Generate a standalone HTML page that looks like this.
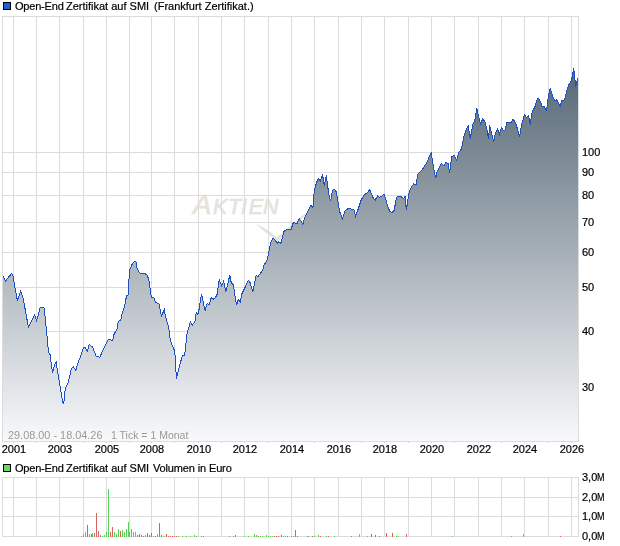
<!DOCTYPE html>
<html><head><meta charset="utf-8">
<style>
html,body{margin:0;padding:0;background:#fff;}
body{width:620px;height:546px;position:relative;overflow:hidden;font-family:"Liberation Sans",sans-serif;font-size:11px;color:#000;}
svg{position:absolute;left:0;top:0;}
.lbl{position:absolute;will-change:transform;-webkit-text-stroke:0.2px currentColor;line-height:12px;white-space:nowrap;}
.xl{width:40px;text-align:center;}
.t{position:absolute;will-change:transform;-webkit-text-stroke:0.2px currentColor;line-height:12px;white-space:nowrap;}
.sq{position:absolute;width:6px;height:6px;border:1px solid #000;}
</style></head><body>
<svg width="620" height="546" viewBox="0 0 620 546">
<defs>
<linearGradient id="gf" x1="0" y1="16" x2="0" y2="441" gradientUnits="userSpaceOnUse">
<stop offset="0" stop-color="#405463"/>
<stop offset="1" stop-color="#f8f9fb"/>
</linearGradient>
</defs>
<g fill="#e6e2dc">
<g font-family="Liberation Sans" font-style="italic" stroke="#e6e2dc" stroke-width="0.7">
<text x="193" y="213.5" font-size="27.5">A</text>
<text x="213" y="213.7" font-size="21.4">K</text>
<text x="228" y="213.7" font-size="21.4">T</text>
<text x="241" y="213.7" font-size="21.4">I</text>
<text x="248.8" y="213.7" font-size="21.4">E</text>
<text x="263" y="213.7" font-size="21.4">N</text>
</g>
<path d="M255.9,224.1 Q268,229 276.6,237.4 L305,213.5 L307,213.5 L278,241.5 Q266,234 255.9,224.1 Z"/>
</g>
<g stroke="#dcdcdc" stroke-width="1" shape-rendering="crispEdges"><line x1="13.5" y1="16" x2="13.5" y2="441" /><line x1="36.5" y1="16" x2="36.5" y2="441" /><line x1="59.5" y1="16" x2="59.5" y2="441" /><line x1="83.5" y1="16" x2="83.5" y2="441" /><line x1="106.5" y1="16" x2="106.5" y2="441" /><line x1="129.5" y1="16" x2="129.5" y2="441" /><line x1="151.5" y1="16" x2="151.5" y2="441" /><line x1="174.5" y1="16" x2="174.5" y2="441" /><line x1="198.5" y1="16" x2="198.5" y2="441" /><line x1="221.5" y1="16" x2="221.5" y2="441" /><line x1="244.5" y1="16" x2="244.5" y2="441" /><line x1="268.5" y1="16" x2="268.5" y2="441" /><line x1="291.5" y1="16" x2="291.5" y2="441" /><line x1="314.5" y1="16" x2="314.5" y2="441" /><line x1="338.5" y1="16" x2="338.5" y2="441" /><line x1="361.5" y1="16" x2="361.5" y2="441" /><line x1="384.5" y1="16" x2="384.5" y2="441" /><line x1="408.5" y1="16" x2="408.5" y2="441" /><line x1="431.5" y1="16" x2="431.5" y2="441" /><line x1="454.5" y1="16" x2="454.5" y2="441" /><line x1="478.5" y1="16" x2="478.5" y2="441" /><line x1="501.5" y1="16" x2="501.5" y2="441" /><line x1="524.5" y1="16" x2="524.5" y2="441" /><line x1="548.5" y1="16" x2="548.5" y2="441" /><line x1="571.5" y1="16" x2="571.5" y2="441" /><line x1="2" y1="152.5" x2="578" y2="152.5" /><line x1="2" y1="172.5" x2="578" y2="172.5" /><line x1="2" y1="195.5" x2="578" y2="195.5" /><line x1="2" y1="222.5" x2="578" y2="222.5" /><line x1="2" y1="252.5" x2="578" y2="252.5" /><line x1="2" y1="287.5" x2="578" y2="287.5" /><line x1="2" y1="331.5" x2="578" y2="331.5" /><line x1="2" y1="387.5" x2="578" y2="387.5" /></g>
<rect x="2.5" y="16.5" width="576" height="425" fill="none" stroke="#dcdcdc" shape-rendering="crispEdges"/>
<path d="M3,441 L3.0,276.2 L5.4,281.1 L11.5,273.5 L12.9,275.7 L17.3,300.5 L20.6,291.2 L23.1,297.9 L28.4,327.2 L34.6,315.0 L36.6,320.8 L40.4,307.0 L44.2,308.1 L47.0,336.2 L48.5,352.7 L50.0,354.4 L52.5,372.8 L54.5,365.4 L56.1,361.4 L57.7,372.5 L60.1,386.6 L62.8,402.7 L63.8,403.6 L65.2,388.6 L68.2,382.5 L71.2,369.5 L73.2,366.4 L75.8,370.5 L78.0,363.0 L81.0,355.0 L83.4,347.7 L85.0,346.9 L87.5,351.4 L89.1,344.4 L91.2,346.1 L92.4,346.9 L96.1,356.0 L99.9,357.2 L102.7,350.6 L107.7,340.7 L108.5,339.5 L112.6,340.3 L114.3,333.3 L116.8,330.4 L118.0,323.4 L119.2,320.8 L120.6,320.6 L122.0,313.7 L124.0,308.2 L125.0,304.4 L126.4,296.2 L128.2,294.8 L128.7,283.4 L129.6,270.1 L132.0,264.5 L134.6,261.2 L136.0,262.0 L137.0,268.0 L139.2,272.8 L142.0,273.8 L144.7,273.3 L147.4,275.6 L149.3,281.5 L150.6,293.4 L151.6,297.1 L153.9,298.0 L155.7,302.6 L158.8,303.4 L161.4,316.2 L164.3,309.6 L165.4,316.2 L168.7,327.6 L170.2,339.2 L171.5,344.4 L173.1,346.9 L174.8,351.8 L176.4,378.5 L178.1,371.5 L182.2,356.0 L184.7,355.1 L187.1,333.0 L190.4,322.1 L192.1,325.4 L195.0,321.3 L195.5,315.4 L196.5,312.4 L198.0,314.4 L199.5,307.3 L200.5,299.3 L201.5,294.2 L202.6,298.8 L203.6,303.8 L205.1,310.3 L207.1,303.8 L209.6,304.3 L211.1,297.7 L213.1,299.3 L215.7,297.2 L217.2,294.2 L217.7,290.7 L219.2,279.6 L221.7,286.2 L223.7,281.1 L225.7,291.7 L228.2,282.6 L229.8,274.6 L231.3,283.1 L233.3,284.6 L234.8,294.7 L236.5,305.0 L238.3,299.5 L240.1,302.3 L242.0,293.5 L245.1,287.3 L248.2,280.3 L249.8,281.8 L252.9,291.9 L256.0,275.6 L258.3,276.4 L263.0,269.4 L263.8,265.5 L266.9,260.8 L268.5,253.8 L270.8,242.1 L273.1,238.2 L275.4,240.5 L277.2,243.3 L278.7,241.8 L280.9,243.3 L283.8,231.5 L285.3,230.1 L291.1,229.3 L293.3,222.7 L297.0,223.5 L299.2,218.4 L302.8,224.2 L305.0,216.9 L309.4,208.1 L310.9,205.2 L312.4,207.4 L313.8,205.2 L313.3,198.0 L314.9,188.1 L316.6,182.6 L318.2,178.7 L320.4,180.9 L322.3,175.3 L323.4,178.7 L324.3,185.9 L325.4,179.3 L326.5,175.1 L327.4,184.8 L329.2,195.8 L330.7,201.3 L332.5,190.3 L334.2,189.2 L336.4,191.9 L338.4,204.6 L340.2,213.4 L342.4,218.8 L345.2,210.6 L348.5,208.4 L352.3,209.5 L354.0,210.1 L355.6,216.1 L358.4,208.4 L361.1,200.2 L363.8,195.2 L367.1,193.0 L369.5,189.5 L371.4,193.6 L373.3,198.1 L375.3,200.0 L377.6,195.5 L379.7,197.4 L381.7,196.2 L384.0,194.2 L385.5,198.1 L388.1,207.7 L390.0,211.5 L391.9,212.6 L394.2,210.3 L396.4,197.4 L398.1,196.4 L400.9,196.4 L403.5,198.5 L405.0,196.2 L406.3,210.0 L407.3,203.8 L409.2,191.7 L411.4,187.2 L413.5,184.0 L416.3,184.6 L417.6,174.4 L420.1,171.8 L422.1,169.9 L424.2,166.4 L426.9,162.6 L429.1,156.9 L431.2,153.2 L432.9,163.5 L434.5,172.5 L435.7,178.3 L437.0,171.7 L439.0,168.4 L441.4,163.5 L443.9,165.9 L446.0,162.6 L448.0,163.5 L449.7,172.5 L451.6,156.9 L453.8,155.2 L456.6,160.2 L458.7,152.7 L461.2,149.4 L464.2,135.4 L466.2,129.7 L468.1,125.5 L470.3,138.7 L472.7,124.7 L474.7,120.6 L476.9,108.2 L478.0,114.0 L480.6,123.9 L482.6,119.0 L485.0,121.7 L487.4,131.2 L488.5,139.0 L489.6,125.4 L491.1,131.2 L493.6,141.5 L495.5,133.4 L497.5,129.0 L499.4,134.5 L501.3,127.6 L503.5,130.5 L505.0,130.5 L506.8,122.2 L510.9,123.0 L513.3,119.2 L516.0,123.9 L519.6,136.5 L521.8,123.9 L524.5,114.8 L526.4,117.5 L528.6,115.8 L530.3,124.6 L531.3,116.5 L532.6,110.8 L534.9,106.9 L536.2,102.4 L537.9,97.9 L539.6,99.9 L542.2,106.3 L543.8,106.9 L544.7,106.9 L546.4,111.4 L547.9,99.9 L549.0,92.8 L550.3,88.6 L552.1,94.7 L554.6,100.5 L556.7,99.9 L560.1,106.3 L561.8,100.5 L564.4,99.9 L566.5,92.2 L568.5,85.1 L570.8,81.9 L572.1,76.8 L573.6,68.5 L574.6,73.6 L575.5,87.1 L576.8,81.9 L577.7,78.1 L578,78.1 L578,441 Z" fill="url(#gf)"/>
<polyline points="3.0,276.2 5.4,281.1 11.5,273.5 12.9,275.7 17.3,300.5 20.6,291.2 23.1,297.9 28.4,327.2 34.6,315.0 36.6,320.8 40.4,307.0 44.2,308.1 47.0,336.2 48.5,352.7 50.0,354.4 52.5,372.8 54.5,365.4 56.1,361.4 57.7,372.5 60.1,386.6 62.8,402.7 63.8,403.6 65.2,388.6 68.2,382.5 71.2,369.5 73.2,366.4 75.8,370.5 78.0,363.0 81.0,355.0 83.4,347.7 85.0,346.9 87.5,351.4 89.1,344.4 91.2,346.1 92.4,346.9 96.1,356.0 99.9,357.2 102.7,350.6 107.7,340.7 108.5,339.5 112.6,340.3 114.3,333.3 116.8,330.4 118.0,323.4 119.2,320.8 120.6,320.6 122.0,313.7 124.0,308.2 125.0,304.4 126.4,296.2 128.2,294.8 128.7,283.4 129.6,270.1 132.0,264.5 134.6,261.2 136.0,262.0 137.0,268.0 139.2,272.8 142.0,273.8 144.7,273.3 147.4,275.6 149.3,281.5 150.6,293.4 151.6,297.1 153.9,298.0 155.7,302.6 158.8,303.4 161.4,316.2 164.3,309.6 165.4,316.2 168.7,327.6 170.2,339.2 171.5,344.4 173.1,346.9 174.8,351.8 176.4,378.5 178.1,371.5 182.2,356.0 184.7,355.1 187.1,333.0 190.4,322.1 192.1,325.4 195.0,321.3 195.5,315.4 196.5,312.4 198.0,314.4 199.5,307.3 200.5,299.3 201.5,294.2 202.6,298.8 203.6,303.8 205.1,310.3 207.1,303.8 209.6,304.3 211.1,297.7 213.1,299.3 215.7,297.2 217.2,294.2 217.7,290.7 219.2,279.6 221.7,286.2 223.7,281.1 225.7,291.7 228.2,282.6 229.8,274.6 231.3,283.1 233.3,284.6 234.8,294.7 236.5,305.0 238.3,299.5 240.1,302.3 242.0,293.5 245.1,287.3 248.2,280.3 249.8,281.8 252.9,291.9 256.0,275.6 258.3,276.4 263.0,269.4 263.8,265.5 266.9,260.8 268.5,253.8 270.8,242.1 273.1,238.2 275.4,240.5 277.2,243.3 278.7,241.8 280.9,243.3 283.8,231.5 285.3,230.1 291.1,229.3 293.3,222.7 297.0,223.5 299.2,218.4 302.8,224.2 305.0,216.9 309.4,208.1 310.9,205.2 312.4,207.4 313.8,205.2 313.3,198.0 314.9,188.1 316.6,182.6 318.2,178.7 320.4,180.9 322.3,175.3 323.4,178.7 324.3,185.9 325.4,179.3 326.5,175.1 327.4,184.8 329.2,195.8 330.7,201.3 332.5,190.3 334.2,189.2 336.4,191.9 338.4,204.6 340.2,213.4 342.4,218.8 345.2,210.6 348.5,208.4 352.3,209.5 354.0,210.1 355.6,216.1 358.4,208.4 361.1,200.2 363.8,195.2 367.1,193.0 369.5,189.5 371.4,193.6 373.3,198.1 375.3,200.0 377.6,195.5 379.7,197.4 381.7,196.2 384.0,194.2 385.5,198.1 388.1,207.7 390.0,211.5 391.9,212.6 394.2,210.3 396.4,197.4 398.1,196.4 400.9,196.4 403.5,198.5 405.0,196.2 406.3,210.0 407.3,203.8 409.2,191.7 411.4,187.2 413.5,184.0 416.3,184.6 417.6,174.4 420.1,171.8 422.1,169.9 424.2,166.4 426.9,162.6 429.1,156.9 431.2,153.2 432.9,163.5 434.5,172.5 435.7,178.3 437.0,171.7 439.0,168.4 441.4,163.5 443.9,165.9 446.0,162.6 448.0,163.5 449.7,172.5 451.6,156.9 453.8,155.2 456.6,160.2 458.7,152.7 461.2,149.4 464.2,135.4 466.2,129.7 468.1,125.5 470.3,138.7 472.7,124.7 474.7,120.6 476.9,108.2 478.0,114.0 480.6,123.9 482.6,119.0 485.0,121.7 487.4,131.2 488.5,139.0 489.6,125.4 491.1,131.2 493.6,141.5 495.5,133.4 497.5,129.0 499.4,134.5 501.3,127.6 503.5,130.5 505.0,130.5 506.8,122.2 510.9,123.0 513.3,119.2 516.0,123.9 519.6,136.5 521.8,123.9 524.5,114.8 526.4,117.5 528.6,115.8 530.3,124.6 531.3,116.5 532.6,110.8 534.9,106.9 536.2,102.4 537.9,97.9 539.6,99.9 542.2,106.3 543.8,106.9 544.7,106.9 546.4,111.4 547.9,99.9 549.0,92.8 550.3,88.6 552.1,94.7 554.6,100.5 556.7,99.9 560.1,106.3 561.8,100.5 564.4,99.9 566.5,92.2 568.5,85.1 570.8,81.9 572.1,76.8 573.6,68.5 574.6,73.6 575.5,87.1 576.8,81.9 577.7,78.1" fill="none" stroke="#1c50c0" stroke-width="1" shape-rendering="crispEdges"/>
<g stroke="#d0d0d0" shape-rendering="crispEdges"><line x1="13.5" y1="442" x2="13.5" y2="443" /><line x1="36.5" y1="442" x2="36.5" y2="443" /><line x1="59.5" y1="442" x2="59.5" y2="443" /><line x1="83.5" y1="442" x2="83.5" y2="443" /><line x1="106.5" y1="442" x2="106.5" y2="443" /><line x1="129.5" y1="442" x2="129.5" y2="443" /><line x1="151.5" y1="442" x2="151.5" y2="443" /><line x1="174.5" y1="442" x2="174.5" y2="443" /><line x1="198.5" y1="442" x2="198.5" y2="443" /><line x1="221.5" y1="442" x2="221.5" y2="443" /><line x1="244.5" y1="442" x2="244.5" y2="443" /><line x1="268.5" y1="442" x2="268.5" y2="443" /><line x1="291.5" y1="442" x2="291.5" y2="443" /><line x1="314.5" y1="442" x2="314.5" y2="443" /><line x1="338.5" y1="442" x2="338.5" y2="443" /><line x1="361.5" y1="442" x2="361.5" y2="443" /><line x1="384.5" y1="442" x2="384.5" y2="443" /><line x1="408.5" y1="442" x2="408.5" y2="443" /><line x1="431.5" y1="442" x2="431.5" y2="443" /><line x1="454.5" y1="442" x2="454.5" y2="443" /><line x1="478.5" y1="442" x2="478.5" y2="443" /><line x1="501.5" y1="442" x2="501.5" y2="443" /><line x1="524.5" y1="442" x2="524.5" y2="443" /><line x1="548.5" y1="442" x2="548.5" y2="443" /><line x1="571.5" y1="442" x2="571.5" y2="443" /></g>
<g stroke="#dcdcdc" shape-rendering="crispEdges"><line x1="13.5" y1="477" x2="13.5" y2="536" /><line x1="36.5" y1="477" x2="36.5" y2="536" /><line x1="59.5" y1="477" x2="59.5" y2="536" /><line x1="83.5" y1="477" x2="83.5" y2="536" /><line x1="106.5" y1="477" x2="106.5" y2="536" /><line x1="129.5" y1="477" x2="129.5" y2="536" /><line x1="151.5" y1="477" x2="151.5" y2="536" /><line x1="174.5" y1="477" x2="174.5" y2="536" /><line x1="198.5" y1="477" x2="198.5" y2="536" /><line x1="221.5" y1="477" x2="221.5" y2="536" /><line x1="244.5" y1="477" x2="244.5" y2="536" /><line x1="268.5" y1="477" x2="268.5" y2="536" /><line x1="291.5" y1="477" x2="291.5" y2="536" /><line x1="314.5" y1="477" x2="314.5" y2="536" /><line x1="338.5" y1="477" x2="338.5" y2="536" /><line x1="361.5" y1="477" x2="361.5" y2="536" /><line x1="384.5" y1="477" x2="384.5" y2="536" /><line x1="408.5" y1="477" x2="408.5" y2="536" /><line x1="431.5" y1="477" x2="431.5" y2="536" /><line x1="454.5" y1="477" x2="454.5" y2="536" /><line x1="478.5" y1="477" x2="478.5" y2="536" /><line x1="501.5" y1="477" x2="501.5" y2="536" /><line x1="524.5" y1="477" x2="524.5" y2="536" /><line x1="548.5" y1="477" x2="548.5" y2="536" /><line x1="571.5" y1="477" x2="571.5" y2="536" /><line x1="2" y1="497.5" x2="578" y2="497.5" /><line x1="2" y1="516.5" x2="578" y2="516.5" /></g>
<rect x="2.5" y="477.5" width="576" height="59" fill="none" stroke="#dcdcdc" shape-rendering="crispEdges"/>
<rect x="81" y="536" width="1" height="1" fill="#5ad25a"/><rect x="83" y="534" width="1" height="3" fill="#5ad25a"/><rect x="85" y="532" width="1" height="5" fill="#5ad25a"/><rect x="87" y="525" width="1" height="12" fill="#d86060"/><rect x="89" y="534" width="1" height="3" fill="#5ad25a"/><rect x="91" y="534" width="1" height="3" fill="#d86060"/><rect x="92" y="533" width="1" height="4" fill="#5ad25a"/><rect x="94" y="533" width="1" height="4" fill="#d86060"/><rect x="96" y="513" width="1" height="24" fill="#d86060"/><rect x="98" y="531" width="1" height="6" fill="#d86060"/><rect x="100" y="535" width="1" height="2" fill="#d86060"/><rect x="102" y="536" width="1" height="1" fill="#5ad25a"/><rect x="104" y="535" width="1" height="2" fill="#5ad25a"/><rect x="106" y="532" width="1" height="5" fill="#5ad25a"/><rect x="108" y="489" width="1" height="48" fill="#5ad25a"/><rect x="110" y="532" width="1" height="5" fill="#d86060"/><rect x="112" y="527" width="1" height="10" fill="#d86060"/><rect x="114" y="532" width="1" height="5" fill="#5ad25a"/><rect x="116" y="534" width="1" height="3" fill="#5ad25a"/><rect x="118" y="529" width="1" height="8" fill="#5ad25a"/><rect x="120" y="531" width="1" height="6" fill="#d86060"/><rect x="122" y="530" width="1" height="7" fill="#5ad25a"/><rect x="124" y="532" width="1" height="5" fill="#5ad25a"/><rect x="126" y="529" width="1" height="8" fill="#5ad25a"/><rect x="128" y="522" width="1" height="15" fill="#5ad25a"/><rect x="129" y="532" width="1" height="5" fill="#5ad25a"/><rect x="131" y="529" width="1" height="8" fill="#5ad25a"/><rect x="133" y="532" width="1" height="5" fill="#5ad25a"/><rect x="135" y="532" width="1" height="5" fill="#5ad25a"/><rect x="137" y="535" width="1" height="2" fill="#d86060"/><rect x="139" y="534" width="1" height="3" fill="#d86060"/><rect x="141" y="535" width="1" height="2" fill="#d86060"/><rect x="143" y="536" width="1" height="1" fill="#d86060"/><rect x="145" y="535" width="1" height="2" fill="#5ad25a"/><rect x="147" y="533" width="1" height="4" fill="#d86060"/><rect x="149" y="535" width="1" height="2" fill="#d86060"/><rect x="151" y="533" width="1" height="4" fill="#d86060"/><rect x="153" y="536" width="1" height="1" fill="#5ad25a"/><rect x="155" y="536" width="1" height="1" fill="#d86060"/><rect x="157" y="534" width="1" height="3" fill="#5ad25a"/><rect x="159" y="523" width="1" height="14" fill="#d86060"/><rect x="161" y="535" width="1" height="2" fill="#d86060"/><rect x="164" y="536" width="1" height="1" fill="#5ad25a"/><rect x="166" y="534" width="1" height="3" fill="#d86060"/><rect x="168" y="536" width="1" height="1" fill="#d86060"/><rect x="170" y="536" width="1" height="1" fill="#d86060"/><rect x="172" y="536" width="1" height="1" fill="#d86060"/><rect x="174" y="536" width="1" height="1" fill="#d86060"/><rect x="176" y="536" width="1" height="1" fill="#d86060"/><rect x="178" y="536" width="1" height="1" fill="#5ad25a"/><rect x="182" y="536" width="1" height="1" fill="#5ad25a"/><rect x="186" y="536" width="1" height="1" fill="#5ad25a"/><rect x="190" y="536" width="1" height="1" fill="#5ad25a"/><rect x="194" y="535" width="1" height="2" fill="#5ad25a"/><rect x="196" y="536" width="1" height="1" fill="#5ad25a"/><rect x="201" y="536" width="1" height="1" fill="#5ad25a"/><rect x="203" y="536" width="1" height="1" fill="#d86060"/><rect x="229" y="536" width="1" height="1" fill="#5ad25a"/><rect x="233" y="536" width="1" height="1" fill="#5ad25a"/><rect x="235" y="535" width="1" height="2" fill="#d86060"/><rect x="244" y="536" width="1" height="1" fill="#5ad25a"/><rect x="248" y="536" width="1" height="1" fill="#5ad25a"/><rect x="254" y="534" width="1" height="3" fill="#5ad25a"/><rect x="256" y="535" width="1" height="2" fill="#5ad25a"/><rect x="258" y="536" width="1" height="1" fill="#d86060"/><rect x="260" y="536" width="1" height="1" fill="#5ad25a"/><rect x="262" y="536" width="1" height="1" fill="#5ad25a"/><rect x="266" y="535" width="1" height="2" fill="#5ad25a"/><rect x="268" y="536" width="1" height="1" fill="#5ad25a"/><rect x="270" y="536" width="1" height="1" fill="#5ad25a"/><rect x="272" y="536" width="1" height="1" fill="#5ad25a"/><rect x="274" y="536" width="1" height="1" fill="#d86060"/><rect x="276" y="536" width="1" height="1" fill="#d86060"/><rect x="278" y="536" width="1" height="1" fill="#d86060"/><rect x="281" y="535" width="1" height="2" fill="#d86060"/><rect x="283" y="536" width="1" height="1" fill="#5ad25a"/><rect x="285" y="536" width="1" height="1" fill="#5ad25a"/><rect x="287" y="536" width="1" height="1" fill="#d86060"/><rect x="291" y="536" width="1" height="1" fill="#5ad25a"/><rect x="293" y="536" width="1" height="1" fill="#5ad25a"/><rect x="295" y="530" width="1" height="7" fill="#d86060"/><rect x="297" y="536" width="1" height="1" fill="#d86060"/><rect x="307" y="536" width="1" height="1" fill="#5ad25a"/><rect x="308" y="536" width="1" height="1" fill="#5ad25a"/><rect x="312" y="536" width="1" height="1" fill="#d86060"/><rect x="314" y="536" width="1" height="1" fill="#5ad25a"/><rect x="318" y="535" width="1" height="2" fill="#5ad25a"/><rect x="320" y="536" width="1" height="1" fill="#d86060"/><rect x="326" y="536" width="1" height="1" fill="#5ad25a"/><rect x="328" y="536" width="1" height="1" fill="#d86060"/><rect x="334" y="536" width="1" height="1" fill="#5ad25a"/><rect x="351" y="536" width="1" height="1" fill="#d86060"/><rect x="359" y="534" width="1" height="3" fill="#5ad25a"/><rect x="367" y="536" width="1" height="1" fill="#5ad25a"/><rect x="371" y="534" width="1" height="3" fill="#d86060"/><rect x="375" y="535" width="1" height="2" fill="#d86060"/><rect x="379" y="536" width="1" height="1" fill="#d86060"/><rect x="386" y="533" width="1" height="4" fill="#d86060"/><rect x="392" y="533" width="1" height="4" fill="#d86060"/><rect x="396" y="536" width="1" height="1" fill="#5ad25a"/><rect x="398" y="536" width="1" height="1" fill="#5ad25a"/><rect x="406" y="534" width="1" height="3" fill="#d86060"/><rect x="452" y="536" width="1" height="1" fill="#5ad25a"/><rect x="511" y="536" width="1" height="1" fill="#5ad25a"/><rect x="523" y="534" width="1" height="3" fill="#5ad25a"/><rect x="560" y="536" width="1" height="1" fill="#d86060"/>
</svg>
<div class="sq" style="left:3px;top:2px;background:#1f5fd2"></div>
<div class="t" style="left:15px;top:0px;letter-spacing:-0.2px">Open-End</div><div class="t" style="left:65.7px;top:0px">Zertifikat auf SMI</div><div class="t" style="left:153.75px;top:0px">(Frankfurt Zertifikat.)</div>
<div class="t" style="left:7.5px;top:428.5px;color:#999;font-size:10.9px;-webkit-text-stroke:0">29.08.00 - 18.04.26</div><div class="t" style="left:110.5px;top:428.5px;color:#999;font-size:10.5px;-webkit-text-stroke:0">1 Tick = 1 Monat</div>
<div class="sq" style="left:3px;top:464px;background:#66d966"></div>
<div class="t" style="left:15px;top:461.5px;letter-spacing:-0.2px">Open-End</div><div class="t" style="left:65.7px;top:461.5px">Zertifikat auf SMI</div><div class="t" style="left:152.95px;top:461.5px;letter-spacing:-0.14px">Volumen in Euro</div>
<div class="lbl" style="left:582px;top:146px">100</div><div class="lbl" style="left:582px;top:166px">90</div><div class="lbl" style="left:582px;top:189px">80</div><div class="lbl" style="left:582px;top:216px">70</div><div class="lbl" style="left:582px;top:246px">60</div><div class="lbl" style="left:582px;top:281px">50</div><div class="lbl" style="left:582px;top:325px">40</div><div class="lbl" style="left:582px;top:381px">30</div><div class="lbl xl" style="left:-6px;top:443px">2001</div><div class="lbl xl" style="left:40px;top:443px">2003</div><div class="lbl xl" style="left:87px;top:443px">2005</div><div class="lbl xl" style="left:132px;top:443px">2008</div><div class="lbl xl" style="left:179px;top:443px">2010</div><div class="lbl xl" style="left:225px;top:443px">2012</div><div class="lbl xl" style="left:272px;top:443px">2014</div><div class="lbl xl" style="left:319px;top:443px">2016</div><div class="lbl xl" style="left:365px;top:443px">2018</div><div class="lbl xl" style="left:412px;top:443px">2020</div><div class="lbl xl" style="left:459px;top:443px">2022</div><div class="lbl xl" style="left:505px;top:443px">2024</div><div class="lbl xl" style="left:552px;top:443px">2026</div><div class="lbl" style="left:582px;top:471px">3,0<span style="display:inline-block;transform:scaleX(.82);transform-origin:0 0">M</span></div><div class="lbl" style="left:582px;top:491px">2,0<span style="display:inline-block;transform:scaleX(.82);transform-origin:0 0">M</span></div><div class="lbl" style="left:582px;top:510px">1,0<span style="display:inline-block;transform:scaleX(.82);transform-origin:0 0">M</span></div><div class="lbl" style="left:582px;top:530px">0,0<span style="display:inline-block;transform:scaleX(.82);transform-origin:0 0">M</span></div>
</body></html>
